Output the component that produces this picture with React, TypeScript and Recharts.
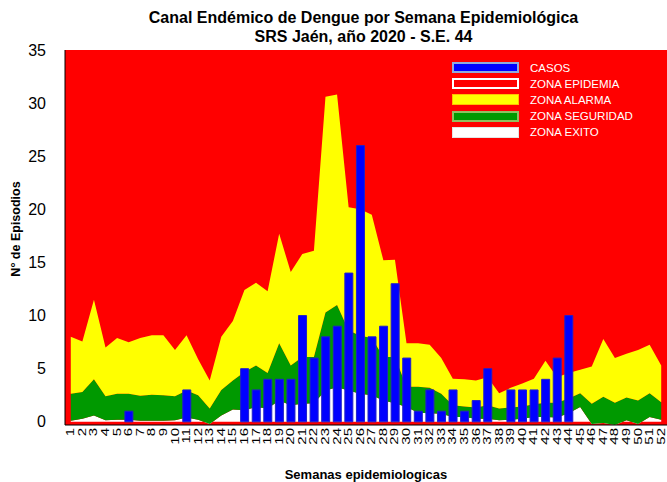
import { ComposedChart, Area, Bar, XAxis, YAxis, CartesianGrid } from "recharts";

// Semanas epidemiológicas 1..52
const semanas = Array.from({ length: 52 }, (_, i) => String(i + 1));

// casos 2020 (hasta S.E. 44)
const casos = [
  0, 0, 0, 0, 0, 1, 0, 0, 0, 0, 3, 0, 0, 0, 0, 5, 3, 4, 4, 4, 10, 6, 8, 9, 14, 26,
  8, 9, 13, 6, 1, 3, 1, 3, 1, 2, 5, 0, 3, 3, 3, 4, 6, 10,
  null, null, null, null, null, null, null, null,
];

// límites superiores de cada zona del canal endémico
const zonaExito = [
  0.1, 0.3, 0.6, 0.15, 0.2, 0.2, 0.1, 0.1, 0.1, 0.15, 0.4, 0.2, -0.2, 0.6, 1.15, 1.1, 1.4,
  1.25, 2.0, 1.55, 1.7, 1.75, 2.95, 3.25, 2.95, 2.65, 2.5, 2.0, 1.75, 1.4, 0.85, 0.8, 0.75,
  0.45, 0.45, 0.3, 0.3, 0.15, 0.2, 0.3, 0.45, 0.45, 0.4, 0.8, 1.4, -0.2, -0.1, -0.3, 0.15,
  -0.2, 0.45, 0.2,
];
const zonaSeguridad = [
  2.65, 2.8, 4.0, 2.4, 2.65, 2.65, 2.45, 2.55, 2.5, 2.4, 2.95, 2.5, 1.25, 3.0, 3.9, 4.7, 5.3,
  4.6, 7.4, 5.3, 6.1, 6.1, 10.3, 11.0, 8.6, 8.1, 7.9, 6.1, 6.1, 3.3, 3.3, 3.2, 2.65, 1.55,
  1.45, 1.35, 1.55, 1.25, 1.35, 1.45, 1.65, 1.8, 1.8, 2.2, 2.7, 1.7, 2.35, 1.8, 2.3, 2.0,
  2.7, 1.85,
];
const zonaAlarma = [
  8.0, 7.55, 11.5, 7.0, 7.9, 7.5, 7.9, 8.15, 8.15, 6.75, 8.15, 5.9, 3.9, 8.0, 9.5, 12.4, 13.1,
  12.3, 17.7, 14.1, 15.8, 16.1, 30.6, 30.8, 20.2, 20.0, 19.5, 15.2, 15.25, 7.4, 7.4, 7.25, 6.0,
  4.05, 4.0, 3.9, 4.2, 2.7, 3.2, 3.6, 4.05, 5.75, 4.2, 4.6, 4.9, 5.2, 7.8, 6.0, 6.4, 6.75,
  7.25, 5.3,
];

const yTicks = [0, 5, 10, 15, 20, 25, 30, 35];

const leyenda = [
  { label: "CASOS", fill: "#0000ff", border: "#8faadc", bw: 2 },
  { label: "ZONA EPIDEMIA", fill: "#ff0000", border: "#ffffff", bw: 2 },
  { label: "ZONA ALARMA", fill: "#ffff00", border: "#ffc000", bw: 1 },
  { label: "ZONA SEGURIDAD", fill: "#009900", border: "#8fc060", bw: 2 },
  { label: "ZONA EXITO", fill: "#ffffff", border: "#e4e4e4", bw: 1 },
];

const data = semanas.map((s, i) => ({
  semana: s,
  casos: casos[i],
  exito: zonaExito[i],
  seguridad: zonaSeguridad[i] - zonaExito[i],
  alarma: zonaAlarma[i] - zonaSeguridad[i],
}));

const font = '"Liberation Sans", Arial, sans-serif';

const WeekTick = (props: any) => {
  const { x, payload } = props;
  const y = 428;
  return (
    <text
      x={0}
      y={0}
      transform={`translate(${x} ${y}) rotate(-90) scale(1.5 1)`}
      textAnchor="end"
      dominantBaseline="central"
      fontSize={10}
      fontFamily={font}
      fill="#000"
    >
      {payload.value}
    </text>
  );
};

export default function App() {
  return (
    <div style={{ position: "absolute", left: 0, top: 0, width: 667, height: 482, fontFamily: font, background: "#fff" }}>
      <ComposedChart width={667} height={482} data={data} margin={{ top: 50, right: 0, bottom: 0, left: 0 }}>
        <CartesianGrid fill="#ff0000" horizontal={false} vertical={false} />
        <XAxis
          dataKey="semana"
          height={57}
          interval={0}
          tick={<WeekTick />}
          tickLine={false}
          axisLine={{ stroke: "#000" }}
        />
        <XAxis xAxisId="top" dataKey="semana" orientation="top" height={0} tick={false} tickLine={false} axisLine={{ stroke: "#000" }} />
        <YAxis
          width={65}
          domain={[0, 35]}
          ticks={yTicks}
          tickLine={false}
          tickSize={0}
          tickMargin={19}
          axisLine={{ stroke: "#000" }}
          tick={{ fontSize: 16, fill: "#000", fontFamily: font }}
        />
        <Area type="linear" dataKey="exito" stackId="z" fill="#ffffff" fillOpacity={1} stroke="none" dot={false} activeDot={false} isAnimationActive={false} />
        <Area type="linear" dataKey="seguridad" stackId="z" fill="#009900" fillOpacity={1} stroke="none" dot={false} activeDot={false} isAnimationActive={false} />
        <Area type="linear" dataKey="alarma" stackId="z" fill="#ffff00" fillOpacity={1} stroke="none" dot={false} activeDot={false} isAnimationActive={false} />
        <Bar dataKey="casos" barSize={8} fill="#0000ff" stroke="#2020c8" strokeWidth={1} isAnimationActive={false} />
      </ComposedChart>

      <div style={{ position: "absolute", left: 0, width: 727, top: 8, textAlign: "center", fontWeight: "bold", fontSize: 16, lineHeight: "19px" }}>
        Canal Endémico de Dengue por Semana Epidemiológica
        <br />
        SRS Jaén, año 2020 - S.E. 44
      </div>

      <div
        style={{
          position: "absolute",
          left: 16,
          top: 229,
          transform: "translate(-50%, -50%) rotate(-90deg)",
          whiteSpace: "nowrap",
          fontWeight: "bold",
          fontSize: 12.5,
        }}
      >
        N° de Episodios
      </div>

      <div style={{ position: "absolute", left: 0, width: 732, top: 467, textAlign: "center", fontWeight: "bold", fontSize: 13 }}>
        Semanas epidemiologicas
      </div>

      <div style={{ position: "absolute", left: 452, top: 59.5 }}>
        {leyenda.map((item) => (
          <div key={item.label} style={{ display: "flex", alignItems: "center", height: 16.2 }}>
            <div
              style={{
                width: 67 - 2 * item.bw,
                height: 11 - 2 * item.bw,
                background: item.fill,
                border: `${item.bw}px solid ${item.border}`,
              }}
            />
            <span style={{ marginLeft: 11, color: "#fff", fontSize: 11.5 }}>{item.label}</span>
          </div>
        ))}
      </div>
    </div>
  );
}
